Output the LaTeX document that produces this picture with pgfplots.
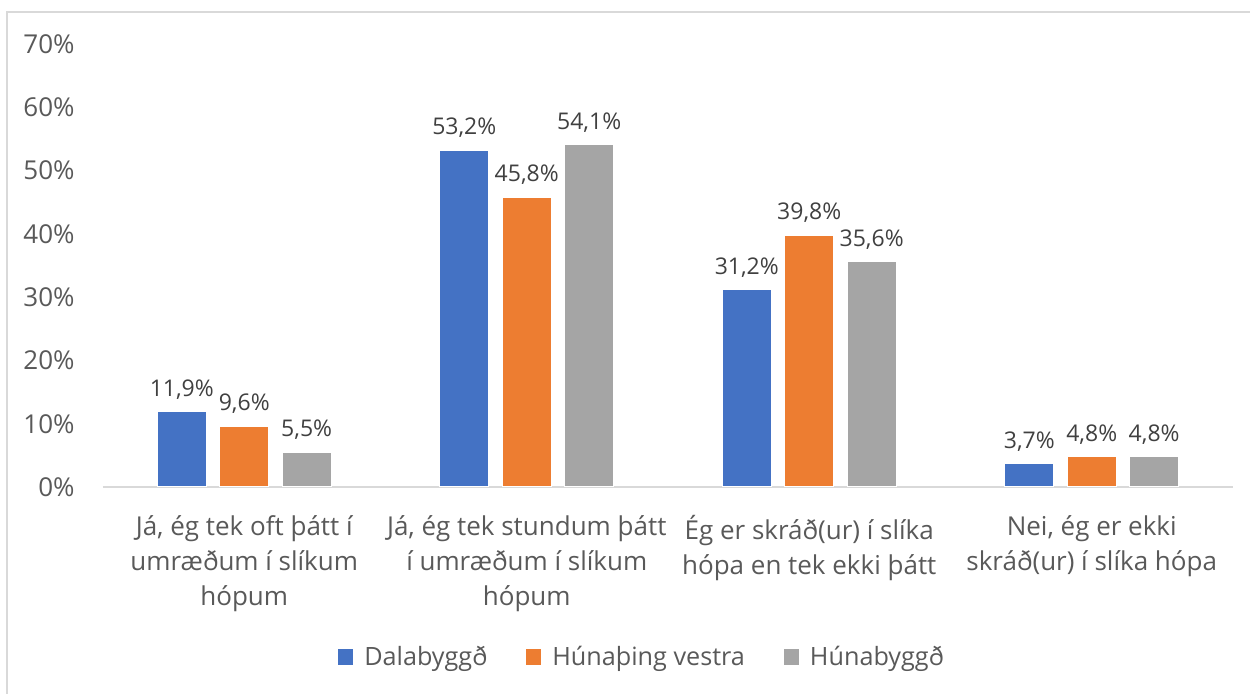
\documentclass[border=0pt]{standalone}
\usepackage{pgfplots}
\pgfplotsset{compat=1.18}
\usepackage{fontspec}
\setmainfont{Open Sans}
\definecolor{cblue}{HTML}{4472C4}
\definecolor{corange}{HTML}{ED7D31}
\definecolor{cgray}{HTML}{A5A5A5}
\definecolor{ctext}{HTML}{595959}
\definecolor{clabel}{HTML}{404040}
\definecolor{cline}{HTML}{D9D9D9}
\begin{document}
\begin{tikzpicture}
\begin{axis}[
  scale only axis, width=565pt, height=221.5pt,
  xmin=-0.5, xmax=3.5, ymin=0, ymax=70,
  clip=false,
  ybar,
  axis x line*=bottom, axis y line*=left,
  x axis line style={draw=cline, line width=1.2pt},
  y axis line style={draw=none},
  major tick length=0pt, tick style={draw=none},
  xtick={0,1,2,3},
  xticklabels={{Já, ég tek oft þátt í\\umræðum í slíkum\\hópum},
               {Já, ég tek stundum þátt\\í umræðum í slíkum\\hópum},
               {Ég er skráð(ur) í slíka\\hópa en tek ekki þátt},
               {Nei, ég er ekki\\skráð(ur) í slíka hópa}},
  xticklabel style={align=center, font=\fontsize{13}{17.5}\selectfont, text=ctext, anchor=north, inner sep=0pt, yshift=-14pt},
  ytick={0,10,...,70},
  yticklabel={\pgfmathprintnumber{\tick}\%},
  yticklabel style={font=\fontsize{13}{15}\selectfont, text=ctext, anchor=east, inner sep=0pt, xshift=-14pt},
  /pgf/number format/assume math mode=true,
  bar width=0.173,
  nodes near coords={\pgfmathprintnumber[fixed, fixed zerofill, precision=1, use comma]{\pgfplotspointmeta}\%},
  every node near coord/.append style={font=\fontsize{11.5}{13}\selectfont, text=clabel, anchor=south, inner sep=0pt, yshift=6pt},
  legend style={at={(0.4757,-0.384)}, anchor=center, draw=none, fill=none,
    font=\fontsize{12.6}{15}\selectfont, text=ctext, inner sep=0pt,
    nodes={inner sep=0pt},
    /tikz/every odd column/.append style={column sep=5pt},
    /tikz/every even column/.append style={column sep=19pt}},
  legend columns=3,
  legend cell align=left,
  legend image code/.code={\fill[#1] (0pt,-4.25pt) rectangle (8pt,4.25pt);},
]
\addplot[bar shift=-0.221, fill=cblue, draw=white, line width=0.5pt] coordinates {(0,11.9) (1,53.2) (2,31.2) (3,3.7)};
\addplot[bar shift=0, fill=corange, draw=white, line width=0.5pt] coordinates {(0,9.6) (1,45.8) (2,39.8) (3,4.8)};
\addplot[bar shift=0.221, fill=cgray, draw=white, line width=0.5pt] coordinates {(0,5.5) (1,54.1) (2,35.6) (3,4.8)};
\legend{Dalabyggð, Húnaþing vestra, Húnabyggð}
\end{axis}
\begin{scope}[x=0.5pt,y=0.5pt]
\draw[color=cline, line width=1.2pt] (-96,-227) -- (-96,475) -- (1167,475);
\pgfresetboundingbox
\path[use as bounding box] (-103,-207) rectangle (1147,487);
\end{scope}
\end{tikzpicture}
\end{document}
